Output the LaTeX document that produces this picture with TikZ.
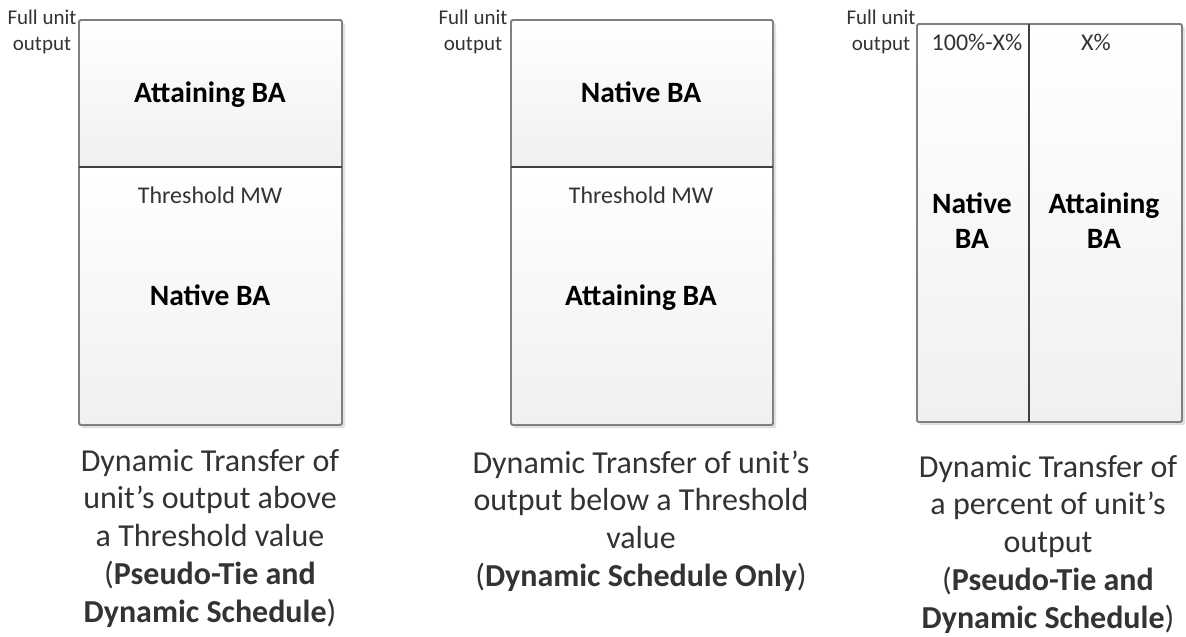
\documentclass[tikz,border=0pt]{standalone}
\usepackage{fontspec}
\setmainfont{Carlito}
\definecolor{txt}{HTML}{333333}
\definecolor{boxbot}{HTML}{F0F0F0}
\definecolor{framec}{HTML}{808080}
\definecolor{divc}{HTML}{404040}
\newcommand{\stack}[1]{\begin{tabular}[t]{@{}c@{}}#1\end{tabular}}
\begin{document}
\begin{tikzpicture}[x=1pt,y=-1pt,
  frame/.style={draw=framec,line width=1.8pt,rounded corners=1.5pt},
  divider/.style={draw=divc,line width=1.4pt},
  shadowbox/.style={fill=black,opacity=0.12,rounded corners=2pt},
  grad/.style={top color=white,bottom color=boxbot},
  smalltext/.style={font=\fontsize{21}{26}\selectfont,text=txt,inner sep=0pt,anchor=base},
  thrtext/.style={font=\fontsize{24}{28}\selectfont,text=txt,inner sep=0pt,anchor=base},
  bigtext/.style={font=\fontsize{29.5}{35}\selectfont\bfseries,text=black,inner sep=0pt,anchor=base},
  captext/.style={font=\fontsize{32}{37.75}\selectfont,text=txt,inner sep=0pt,anchor=base}]
\useasboundingbox (0,0) rectangle (1186,637);
% Box 1
\fill[shadowbox] (81,23) rectangle (345,428);
\shade[grad] (79,20) rectangle (342,167);
\shade[grad] (79,167) rectangle (342,425);
\draw[frame] (79,20) rectangle (342,425);
\draw[divider] (79,167) -- (342,167);
% Box 2
\fill[shadowbox] (513,23) rectangle (776,428);
\shade[grad] (511,20) rectangle (773,167);
\shade[grad] (511,167) rectangle (773,425);
\draw[frame] (511,20) rectangle (773,425);
\draw[divider] (511,167) -- (773,167);
% Box 3
\fill[shadowbox] (919,27) rectangle (1185,425);
\shade[grad] (917,24) rectangle (1182,422);
\draw[frame] (917,24) rectangle (1182,422);
\draw[divider] (1029,24) -- (1029,422);
% Texts box 1
\node[smalltext] (fu1) at (42,24) {\stack{Full unit\\output}};
\node[bigtext] (ab1) at (210,102) {Attaining BA};
\node[thrtext] (th1) at (210,203) {Threshold MW};
\node[bigtext] (nb1) at (210,305) {Native BA};
\node[captext] (c1) at (210,471) {\stack{Dynamic Transfer of\\unit’s output above\\a Threshold value\\(\textbf{Pseudo-Tie and}\\\textbf{Dynamic Schedule})}};
% Texts box 2
\node[smalltext] (fu2) at (473,24) {\stack{Full unit\\output}};
\node[bigtext] (nb2) at (641,102) {Native BA};
\node[thrtext] (th2) at (641,203) {Threshold MW};
\node[bigtext] (ab2) at (641,305) {Attaining BA};
\node[captext] (c2) at (641,473) {\stack{Dynamic Transfer of unit’s\\output below a Threshold\\value\\(\textbf{Dynamic Schedule Only})}};
% Texts box 3
\node[smalltext] (fu3) at (881,24) {\stack{Full unit\\output}};
\node[thrtext] (pc1) at (977,50) {100\%-X\%};
\node[thrtext] (pc2) at (1096,50) {X\%};
\node[bigtext] (nb3) at (972,213) {\stack{Native\\BA}};
\node[bigtext] (ab3) at (1104,213) {\stack{Attaining\\BA}};
\node[captext] (c3) at (1048,477) {\stack{Dynamic Transfer of\\a percent of unit’s\\output\\(\textbf{Pseudo-Tie and}\\\textbf{Dynamic Schedule})}};
\end{tikzpicture}
\end{document}
